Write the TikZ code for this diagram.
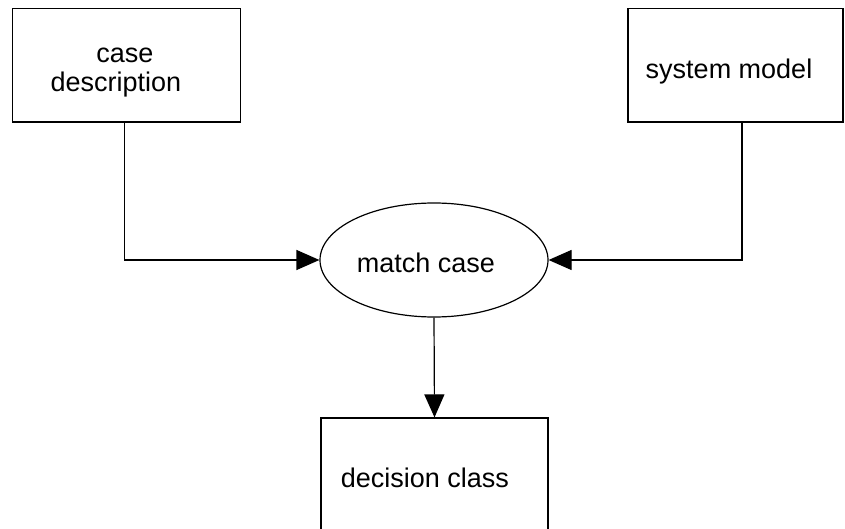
\documentclass[tikz,border=0pt]{standalone}
\usepackage{fontspec}
\setmainfont{Liberation Sans}
\usetikzlibrary{shapes.geometric,arrows.meta}
\begin{document}
\begin{tikzpicture}[x=0.5pt,y=-0.5pt,
  box/.style={draw, line width=0.6pt, rectangle, inner sep=0pt},
  oval/.style={draw, line width=0.6pt, ellipse, inner sep=0pt},
  lbl/.style={anchor=base, inner sep=0pt, font=\fontsize{13.5}{16}\selectfont},
  conn/.style={line width=0.6pt, -{Triangle[length=11.5pt,width=10pt]}}]
\useasboundingbox (0,0) rectangle (845,529);
\clip (0,0) rectangle (845,529);
% boxes
\node[box, minimum width=114pt, minimum height=56.75pt] (b1) at (126.5,65.25) {};
\node[box, minimum width=107.5pt, minimum height=56.75pt] (b2) at (735.5,65.25) {};
\node[oval, minimum width=114pt, minimum height=57pt] (mc) at (434,260) {};
\node[box, minimum width=113.5pt, minimum height=81pt] (b3) at (434.5,499) {};
% labels
\node[lbl] (t1a) at (125,63) {case};
\node[lbl] (t1b) at (116,92) {description};
\node[lbl] (t2) at (729,79) {system model};
\node[lbl] (t3) at (426,272) {match case};
\node[lbl] (t4) at (425,487) {decision class};
% connectors
\draw[conn] ([xshift=-0.9pt]b1.south) |- (mc.west);
\draw[conn] ([xshift=3.25pt]b2.south) |- (mc.east);
\draw[conn] (mc.south) -- (b3.north);
\end{tikzpicture}
\end{document}
